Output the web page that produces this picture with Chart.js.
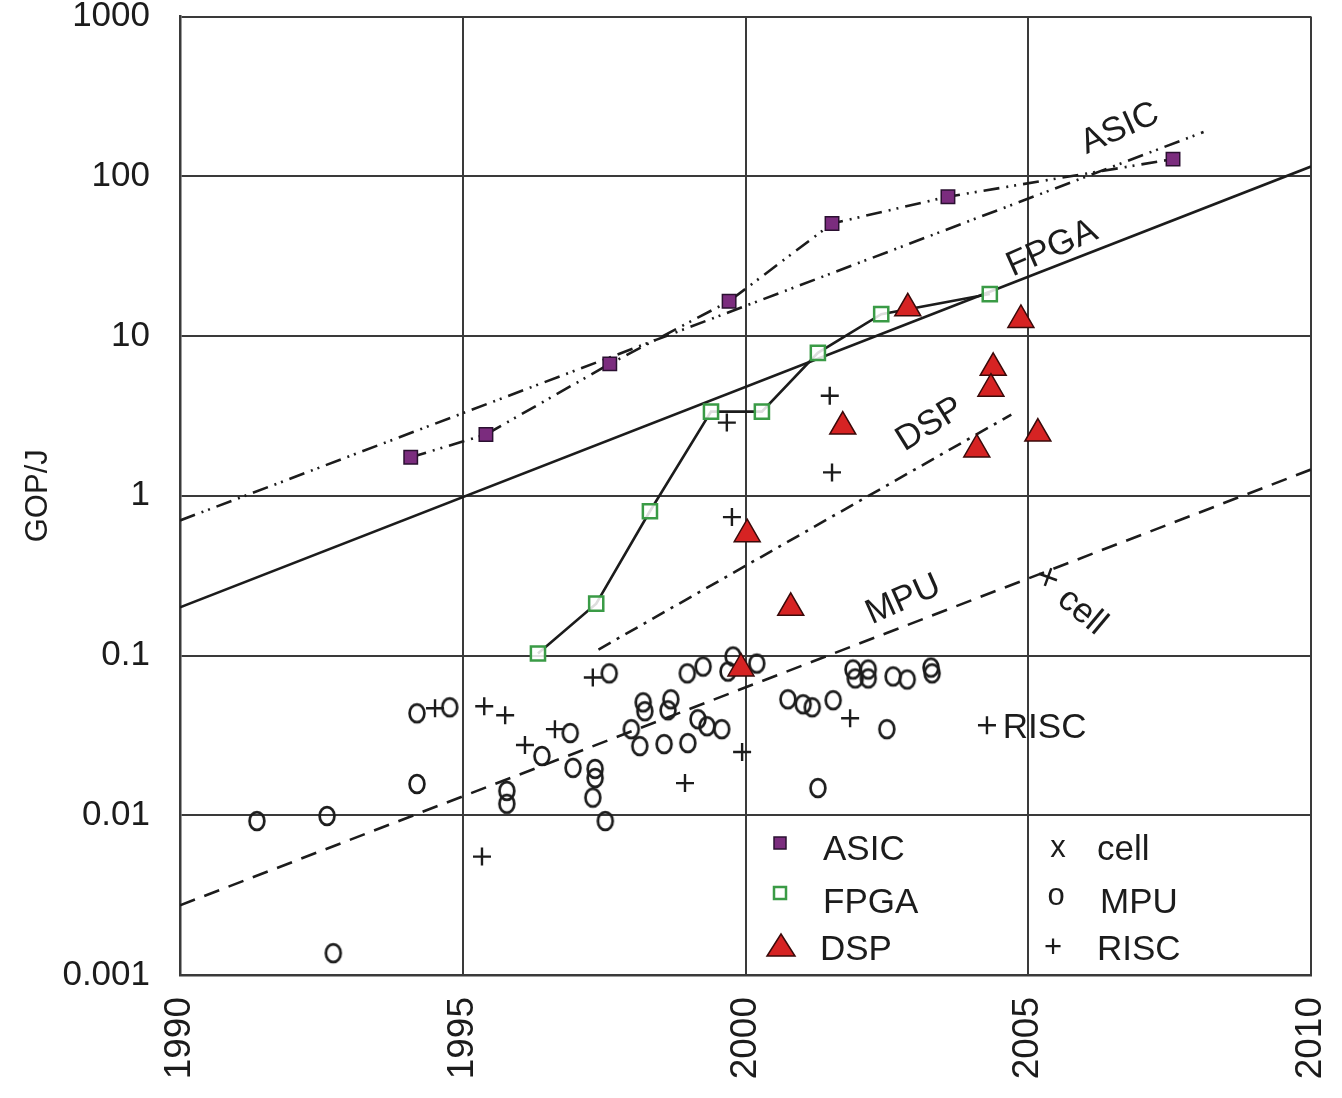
<!DOCTYPE html>
<html>
<head>
<meta charset="utf-8">
<script src="https://cdn.jsdelivr.net/npm/chart.js@4.4.1/dist/chart.umd.min.js"></script>
<style>
    html, body { margin: 0; padding: 0; background: #fff; }
    #wrap { width: 1342px; height: 1098px; }
</style>
</head>
<body>
<div id="wrap"><canvas id="chart" width="1342" height="1098"></canvas></div>
<script>
// --- Axis ticks ---
const xTicks = [1990, 1995, 2000, 2005, 2010];
const yTicks = [0.001, 0.01, 0.1, 1, 10, 100, 1000];
const yTickLabels = ["0.001", "0.01", "0.1", "1", "10", "100", "1000"];

// --- Series (year, GOP/J) ---
const asicYears = [1994.08, 1995.41, 1997.60, 1999.71, 2001.53, 2003.58, 2007.56];
const asicGops = [1.74, 2.42, 6.69, 16.5, 50.6, 74.5, 128];

const fpgaYears = [1996.33, 1997.36, 1998.31, 1999.39, 2000.29, 2001.28, 2002.40, 2004.32];
const fpgaGops = [0.103, 0.211, 0.80, 3.36, 3.36, 7.84, 13.7, 18.3];

const dspYears = [2002.87, 2004.87, 2004.38, 2004.34, 2001.72, 2004.09, 2005.17, 2000.03, 2000.80, 1999.92];
const dspGops = [14.9, 12.6, 6.32, 4.68, 2.71, 1.95, 2.45, 0.575, 0.199, 0.083];

const mpuYears = [
    1991.36, 1992.60, 1992.71, 1994.19, 1994.77, 1994.19, 1995.78, 1995.78, 1996.40, 1996.90,
    1996.95, 1997.34, 1997.34, 1997.30, 1997.52, 1997.59, 1997.98, 1998.19, 1998.22, 1998.68,
    1998.63, 1998.13, 1998.56, 1998.98, 1999.16, 1999.32, 1999.58, 1998.97, 1999.25, 1999.78,
    1999.69, 2000.20, 2000.75, 2001.02, 2001.18, 2001.55, 2001.90, 2001.94, 2002.17, 2002.17,
    2002.61, 2002.86, 2003.28, 2003.30, 2002.50, 2001.28
];
const mpuGops = [
    0.0092, 0.0099, 0.00137, 0.0435, 0.0474, 0.0157, 0.0142, 0.0118, 0.0235, 0.0327,
    0.0198, 0.0195, 0.0171, 0.0129, 0.0092, 0.0773, 0.0346, 0.0509, 0.0448, 0.0532,
    0.0454, 0.0271, 0.0279, 0.0283, 0.0399, 0.0361, 0.0346, 0.0773, 0.0853, 0.0986,
    0.0794, 0.0891, 0.0532, 0.0495, 0.0474, 0.0525, 0.0818, 0.0719, 0.0818, 0.0719,
    0.0740, 0.0708, 0.0841, 0.0773, 0.0346, 0.0148
];

const riscYears = [
    1994.51, 1995.38, 1995.75, 1996.10, 1996.63, 1997.30, 1995.34, 1998.93,
    1999.94, 1999.67, 1999.76, 2001.49, 2001.53, 2001.85, 2004.27
];
const riscGops = [
    0.0468, 0.0481, 0.0423, 0.0275, 0.0346, 0.0729, 0.00551, 0.0159,
    0.0249, 2.87, 0.735, 4.23, 1.40, 0.0405, 0.0366
];

const cellYears = [2005.35];
const cellGops = [0.31];

// --- Trend lines (end points) ---
const asicTrendYears = [1990, 2008.1];
const asicTrendGops = [0.70, 189];
const fpgaTrendYears = [1990, 2010];
const fpgaTrendGops = [0.20, 115];
const dspTrendYears = [1997.4, 2004.7];
const dspTrendGops = [0.109, 3.22];
const mpuTrendYears = [1990, 2010];
const mpuTrendGops = [0.00273, 1.46];

// --- In-plot labels ---
const labelTexts = ["ASIC", "FPGA", "DSP", "MPU", "cell", "RISC"];
const labelYears = [2006.62, 2005.42, 2003.26, 2002.79, 2005.95, 2004.55];
const labelGops = [198, 35.3, 2.79, 0.223, 0.188, 0.0351];

const FONT = '"Liberation Sans", Arial, sans-serif';
const INK = "#1c1c1c";
const GRID = "#3a3a3a";
const PURPLE = "#7b2c7e";
const GREEN = "#3a9b46";
const RED = "#d62323";

const pts = (xs, ys) => xs.map((x, i) => ({ x, y: ys[i] }));

// "o" marker, slightly taller than wide like the original
function ringMarker() {
    const c = document.createElement("canvas");
    c.width = 22;
    c.height = 26;
    const g = c.getContext("2d");
    g.strokeStyle = INK;
    g.lineWidth = 2.7;
    g.beginPath();
    g.ellipse(11, 13, 7.4, 8.9, 0, 0, Math.PI * 2);
    g.stroke();
    return c;
}

function trend(xs, ys, dash) {
    return {
        data: pts(xs, ys),
        showLine: true,
        borderColor: INK,
        borderWidth: 2.6,
        borderDash: dash,
        pointRadius: 0,
        order: 10,
    };
}

const datasets = [
    {
        label: "ASIC",
        data: pts(asicYears, asicGops),
        showLine: true,
        borderColor: INK,
        borderWidth: 2.6,
        borderDash: [16, 7, 2, 6, 2, 7],
        pointStyle: "rect",
        pointRadius: 9.5,
        pointBackgroundColor: PURPLE,
        pointBorderColor: "#2a1030",
        pointBorderWidth: 1.5,
        order: 2,
    },
    {
        label: "FPGA",
        data: pts(fpgaYears, fpgaGops),
        showLine: true,
        borderColor: INK,
        borderWidth: 2.6,
        pointStyle: "rect",
        pointRadius: 10,
        pointBackgroundColor: "rgba(255,255,255,0.85)",
        pointBorderColor: GREEN,
        pointBorderWidth: 2.5,
        order: 3,
    },
    {
        label: "DSP",
        data: pts(dspYears, dspGops),
        showLine: false,
        pointStyle: "triangle",
        pointRadius: 15,
        pointBackgroundColor: RED,
        pointBorderColor: "#3a0a0a",
        pointBorderWidth: 1.5,
        order: 1,
    },
    {
        label: "MPU",
        data: pts(mpuYears, mpuGops),
        showLine: false,
        pointStyle: ringMarker(),
        order: 4,
    },
    {
        label: "RISC",
        data: pts(riscYears, riscGops),
        showLine: false,
        pointStyle: "cross",
        pointRadius: 9,
        pointBorderColor: INK,
        pointBorderWidth: 2.4,
        order: 4,
    },
    {
        label: "cell",
        data: pts(cellYears, cellGops),
        showLine: false,
        pointStyle: "cross",
        pointRotation: 20,
        pointRadius: 9.5,
        pointBorderColor: INK,
        pointBorderWidth: 2.5,
        order: 4,
    },
    trend(asicTrendYears, asicTrendGops, [16, 7, 2, 5, 2, 7]),
    trend(fpgaTrendYears, fpgaTrendGops, []),
    trend(dspTrendYears, dspTrendGops, [14, 7, 3, 7]),
    trend(mpuTrendYears, mpuTrendGops, [16, 10]),
];

// --- Rotated labels along the trend lines ---
const labelStyle = [
    { angle: -24, align: "center" },
    { angle: -24, align: "center" },
    { angle: -32, align: "center" },
    { angle: -24, align: "center" },
    { angle: 40, align: "center" },
    { angle: 0, align: "left" },
];

const lineLabels = {
    id: "lineLabels",
    afterDatasetsDraw(chart) {
        const { ctx, scales } = chart;
        ctx.save();
        ctx.fillStyle = INK;
        ctx.font = `35px ${FONT}`;
        ctx.textBaseline = "middle";
        labelTexts.forEach((t, i) => {
            const px = scales.x.getPixelForValue(labelYears[i]);
            const py = scales.y.getPixelForValue(labelGops[i]);
            ctx.save();
            ctx.translate(px, py);
            ctx.rotate((labelStyle[i].angle * Math.PI) / 180);
            ctx.textAlign = labelStyle[i].align;
            ctx.fillText(t, 0, 0);
            ctx.restore();
        });
        ctx.restore();
    },
};

// --- Two-column legend in the lower right of the plot ---
const cornerLegend = {
    id: "cornerLegend",
    afterDraw(chart) {
        const { ctx } = chart;
        ctx.save();
        ctx.textBaseline = "middle";
        ctx.textAlign = "left";

        // left column markers
        ctx.fillStyle = PURPLE;
        ctx.strokeStyle = "#2a1030";
        ctx.lineWidth = 1.5;
        ctx.fillRect(774, 837, 12, 12);
        ctx.strokeRect(774, 837, 12, 12);

        ctx.strokeStyle = GREEN;
        ctx.lineWidth = 2.5;
        ctx.strokeRect(774, 887, 12, 12);

        ctx.fillStyle = RED;
        ctx.strokeStyle = "#3a0a0a";
        ctx.lineWidth = 1.5;
        ctx.beginPath();
        ctx.moveTo(781, 934);
        ctx.lineTo(795, 956);
        ctx.lineTo(767, 956);
        ctx.closePath();
        ctx.fill();
        ctx.stroke();

        ctx.fillStyle = INK;
        ctx.font = `35px ${FONT}`;
        ctx.fillText("ASIC", 823, 850);
        ctx.fillText("FPGA", 823, 903);
        ctx.fillText("DSP", 820, 950);

        // right column, markers are plain characters
        ctx.textAlign = "center";
        ctx.font = `31px ${FONT}`;
        ctx.fillText("x", 1058, 848);
        ctx.fillText("o", 1056, 896);
        ctx.fillText("+", 1053, 948);

        ctx.textAlign = "left";
        ctx.font = `35px ${FONT}`;
        ctx.fillText("cell", 1097, 850);
        ctx.fillText("MPU", 1100, 903);
        ctx.fillText("RISC", 1097, 950);
        ctx.restore();
    },
};

const chart = new Chart(document.getElementById("chart"), {
    type: "scatter",
    data: { datasets },
    options: {
        responsive: false,
        animation: false,
        events: [],
        layout: { padding: { top: 12, right: 31, left: 0, bottom: 0 } },
        plugins: {
            legend: { display: false },
            tooltip: { enabled: false },
        },
        scales: {
            x: {
                type: "linear",
                min: 1990,
                max: 2010,
                afterBuildTicks: (s) => { s.ticks = xTicks.map((v) => ({ value: v })); },
                afterFit: (s) => {
                    s.height = 123;
                    s.paddingLeft = 0;
                    s.paddingRight = 0;
                },
                grid: { color: GRID, lineWidth: 2, drawTicks: false },
                border: { color: GRID, width: 2.5 },
                ticks: {
                    autoSkip: false,
                    minRotation: 90,
                    maxRotation: 90,
                    padding: 22,
                    color: INK,
                    font: { family: FONT, size: 37 },
                    callback: (v) => String(v),
                },
            },
            y: {
                type: "logarithmic",
                min: 0.001,
                max: 1000,
                afterBuildTicks: (s) => { s.ticks = yTicks.map((v) => ({ value: v })); },
                afterFit: (s) => {
                    s.width = 180;
                    s.paddingTop = 0;
                    s.paddingBottom = 0;
                },
                grid: { color: GRID, lineWidth: 2, drawTicks: false },
                border: { color: GRID, width: 2.5 },
                title: {
                    display: true,
                    text: "GOP/J",
                    color: INK,
                    font: { family: FONT, size: 31 },
                    padding: { top: 20, bottom: 0 },
                },
                ticks: {
                    padding: 30,
                    color: INK,
                    font: { family: FONT, size: 35 },
                    callback: (v) => {
                        const i = yTicks.indexOf(v);
                        return i >= 0 ? yTickLabels[i] : "";
                    },
                },
            },
        },
    },
    plugins: [lineLabels, cornerLegend],
});
</script>
</body>
</html>
